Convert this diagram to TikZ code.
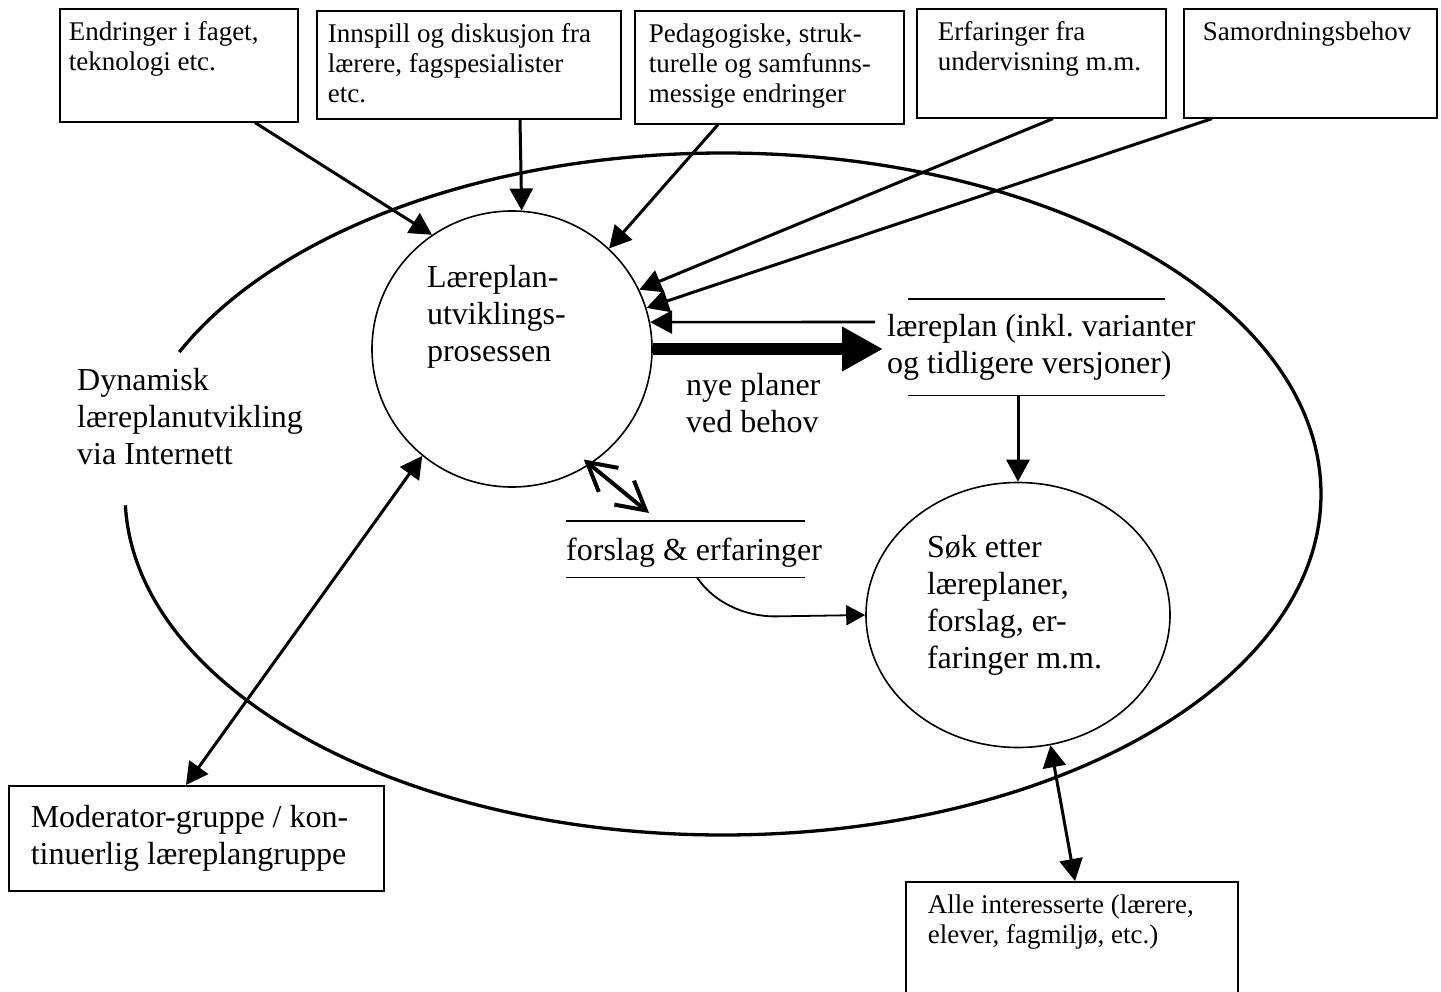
\documentclass[tikz,border=0pt]{standalone}
\usepackage{fontspec}
\setmainfont{Liberation Serif}
\usetikzlibrary{arrows.meta,shapes.geometric,calc}

\newcommand\boxtextfont{\fontsize{27pt}{30pt}\selectfont}
\newcommand\bigtextfont{\fontsize{32pt}{37pt}\selectfont}

\tikzset{
  srcbox/.style={draw, rectangle, line width=1.6pt, anchor=north west,
    inner ysep=11pt, font=\boxtextfont},
  procnode/.style={draw, ellipse, line width=1.6pt, inner sep=0pt, font=\bigtextfont},
  plaintext/.style={inner sep=0pt, anchor=north west, font=\bigtextfont},
  storeline/.style={line width=1.6pt},
  flow/.style={line width=3pt, -{Triangle[length=22pt,width=23pt]}},
  bothflow/.style={line width=3pt,
    {Triangle[length=22pt,width=23pt]}-{Triangle[length=22pt,width=23pt]}},
  bigflow/.style={line width=12pt, -{Triangle[length=41pt,width=42pt]}},
  thinflow/.style={line width=1.8pt, -{Triangle[length=19pt,width=20pt]}},
  barbboth/.style={line width=4pt, line cap=round,
    {Straight Barb[length=28pt,width=31pt]}-{Straight Barb[length=28pt,width=31pt]}},
}

\begin{document}
\frenchspacing
\begin{tikzpicture}[x=1pt,y=-1pt]
\useasboundingbox (0,0) rectangle (1441,992);
\clip (0,0) rectangle (1441,992);

% outer boundary: the internet-based process (open where its label sits)
\coordinate (E) at (723,494);
\begin{scope}[shift={(E)}, y=1pt]
  \draw[line width=3.3pt] (181.9:598 and 341)
    arc[start angle=181.9, end angle=515.4, x radius=598, y radius=341];
\end{scope}

% input sources along the top
\node[srcbox, inner xsep=9pt] (b1) at (59,8)
  {\parbox[c][91pt][t]{220pt}{\raggedright\strut Endringer i faget,\\teknologi etc.}};
\node[srcbox, inner xsep=11pt] (b2) at (316,10)
  {\parbox[c][86pt][t]{282pt}{\raggedright\strut Innspill og diskusjon fra\\lærere, fagspesialister\\etc.}};
\node[srcbox, inner xsep=14pt] (b3) at (634,10)
  {\parbox[c][91pt][t]{241pt}{\raggedright\strut Pedagogiske, struk-\\turelle og samfunns-\\messige endringer}};
\node[srcbox, inner xsep=21pt] (b4) at (916,8)
  {\parbox[c][87pt][t]{207pt}{\raggedright\strut Erfaringer fra\\undervisning m.m.}};
\node[srcbox, inner xsep=19pt] (b5) at (1183,8)
  {\parbox[c][87pt][t]{215pt}{\raggedright\strut Samordningsbehov}};

% processes
\node[procnode, minimum width=280pt, minimum height=276pt] (c1) at (512,349)
  {\parbox[c][174pt][t]{170pt}{\raggedright\strut Læreplan-\\utviklings-\\prosessen}};
\node[procnode, minimum width=304pt, minimum height=265pt] (c2) at (1018,615)
  {\parbox[c][166pt][t]{182pt}{\raggedright\strut Søk etter\\læreplaner,\\forslag, er-\\faringer m.m.}};

% data stores
\node[plaintext, inner ysep=11pt] (s1) at (887,299)
  {\parbox{310pt}{\raggedright\strut læreplan (inkl. varianter\\og tidligere versjoner)\strut}};
\draw[storeline, shorten <=21pt, shorten >=32pt] (s1.north west) -- (s1.north east);
\draw[storeline, shorten <=21pt, shorten >=32pt] (s1.south west) -- (s1.south east);

\node[plaintext, text height=39pt, text depth=17pt] (s2) at (566,521) {forslag \& erfaringer};
\draw[storeline, shorten >=17pt] (s2.north west) -- (s2.north east);
\draw[storeline, shorten >=17pt] (s2.south west) -- (s2.south east);

% free labels
\node[plaintext] (dyn) at (77,364)
  {\parbox{240pt}{\raggedright\strut Dynamisk\\læreplanutvikling\\via Internett}};
\node[plaintext] (np) at (686,369)
  {\parbox{160pt}{\raggedright\strut nye planer\\ved behov}};

% external groups
\node[srcbox, font=\bigtextfont, inner xsep=22pt, inner ysep=0pt, minimum height=105pt] (mod) at (8,785)
  {\parbox{331pt}{\raggedright\strut Moderator-gruppe / kon-\\tinuerlig læreplangruppe\strut}};
\node[srcbox, inner xsep=22pt] (alle) at (905,881)
  {\parbox[c][107pt][t]{288pt}{\raggedright\strut Alle interesserte (lærere,\\elever, fagmiljø, etc.)}};

% flows into the development process
\draw[flow] ([xshift=196pt]b1.south west) -- (c1.125.2);
\draw[flow] ([xshift=204pt]b2.south west) -- (c1.86.7);
\draw[flow] ([xshift=84pt]b3.south west) -- (c1.46.5);
\draw[flow] ([xshift=137pt]b4.south west) -- (c1.25.5);
\draw[flow] ([xshift=29pt]b5.south west) -- (c1.17.4);
\draw[flow, line width=2.6pt] ([xshift=-12pt,yshift=-23pt]s1.north west) -- (c1.11.3);

% new plans to the store, and on to search
\draw[bigflow, shorten >=4pt] (c1.east) -- (c1.east -| s1.west);
\draw[flow] (c2.north |- s1.south) -- (c2.north);

% proposals and experiences
\draw[barbboth, shorten <=-8pt] (c1.-56) -- ([xshift=83pt,yshift=8pt]s2.north west);
\coordinate (fe) at ([xshift=131pt]s2.south west);
\draw[thinflow] (fe) .. controls ($(fe)+(16,24)$) and ($(fe)+(46,39)$) .. ($(fe)+(78,39)$) -- (c2.west);

% exchanges with the outside groups
\draw[bothflow] (c1.230.8) -- ([xshift=178pt]mod.north west);
\draw[bothflow] (c2.-76) -- ([xshift=170pt]alle.north west);
\end{tikzpicture}
\end{document}
